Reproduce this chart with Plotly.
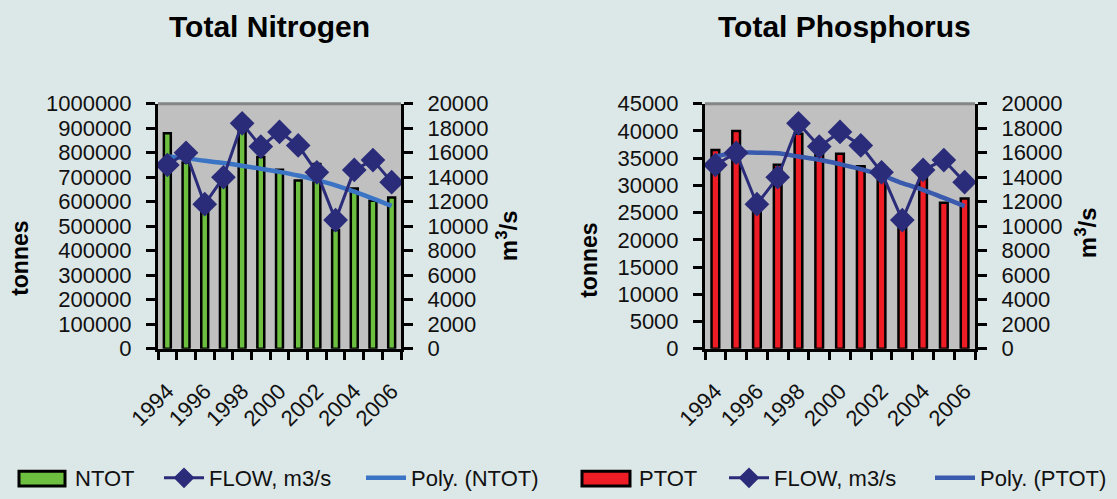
import plotly.graph_objects as go

# ---------------- data ----------------
years = [1994, 1995, 1996, 1997, 1998, 1999, 2000, 2001, 2002, 2003, 2004, 2005, 2006]
year_labels = [1994, 1996, 1998, 2000, 2002, 2004, 2006]

ntot = [880000, 760000, 590000, 670000, 895000, 783000, 731000, 687000, 754000, 485000, 654000, 604000, 617000]
ntot_poly = [785000, 778000, 767000, 758000, 747000, 735000, 722000, 707000, 688000, 667000, 641000, 613000, 583000]

ptot = [36500, 40000, 26500, 33800, 39500, 36000, 35800, 33500, 32200, 23000, 31400, 26800, 27600]
ptot_poly = [35300, 36000, 36000, 35900, 35300, 34700, 33900, 33000, 31900, 30400, 29200, 27700, 26200]

flow = [15000, 16000, 11800, 14000, 18400, 16500, 17700, 16600, 14400, 10500, 14600, 15400, 13600]

# ---------------- styles ----------------
FONT = "Arial, 'Liberation Sans', sans-serif"
BG = "#DCE7E7"
PLOT_BG = "#C0C0C0"
GREEN = "#6DC03F"
RED = "#EE1C24"
NAVY = "#2A2C7A"
TREND_N = "#3B74C4"
TREND_P = "#3A5AAE"

W, H = 1117, 499

def px_x(p):
    return p / W

def px_y(p):
    return 1 - p / H

fig = go.Figure()

# ---- Nitrogen ----
fig.add_trace(go.Bar(x=years, y=ntot, name="NTOT", xaxis="x", yaxis="y",
                     width=0.37, marker=dict(color=GREEN, line=dict(color="black", width=2.5)),
                     showlegend=False))
fig.add_trace(go.Scatter(x=years, y=ntot_poly, name="Poly. (NTOT)", mode="lines", xaxis="x", yaxis="y",
                         line=dict(color=TREND_N, width=4.5, shape="spline"), legend="legend2"))
fig.add_trace(go.Scatter(x=years, y=flow, name="FLOW, m3/s", mode="lines+markers", xaxis="x", yaxis="y2",
                         line=dict(color=NAVY, width=3),
                         marker=dict(symbol="diamond", size=19, color=NAVY),
                         legend="legend"))

# ---- Phosphorus ----
fig.add_trace(go.Bar(x=years, y=ptot, name="PTOT", xaxis="x2", yaxis="y3",
                     width=0.37, marker=dict(color=RED, line=dict(color="black", width=2.5)),
                     showlegend=False))
fig.add_trace(go.Scatter(x=years, y=ptot_poly, name="Poly. (PTOT)", mode="lines", xaxis="x2", yaxis="y3",
                         line=dict(color=TREND_P, width=4.5, shape="spline"), legend="legend4"))
fig.add_trace(go.Scatter(x=years, y=flow, name="FLOW, m3/s", mode="lines+markers", xaxis="x2", yaxis="y4",
                         line=dict(color=NAVY, width=3),
                         marker=dict(symbol="diamond", size=19, color=NAVY),
                         legend="legend3"))

tickfont = dict(family=FONT, size=22, color="#111111")

def xaxis(domain, anchor):
    return dict(domain=domain, anchor=anchor, range=[1993.5, 2006.5],
                tickmode="array", tickvals=year_labels, ticktext=[str(v) for v in year_labels],
                tickangle=-45, ticks="", ticklabelstandoff=18,
                minor=dict(tickmode="linear", tick0=1993.5, dtick=1, ticks="outside",
                           ticklen=8, tickwidth=3, tickcolor="black", showgrid=False),
                showline=True, linecolor="black", linewidth=3, showgrid=False, zeroline=False,
                tickfont=tickfont, automargin=False, fixedrange=True)

def yaxis(domain, anchor, rng, dtick, side="left", overlaying=None):
    d = dict(domain=domain, anchor=anchor, range=rng, dtick=dtick, tick0=0, side=side,
             ticks="outside", ticklen=9, tickwidth=3, tickcolor="black",
             ticklabelstandoff=10, tickformat="d",
             showline=True, linecolor="black", linewidth=3, showgrid=False, zeroline=False,
             tickfont=tickfont, automargin=False, fixedrange=True)
    if overlaying:
        d["overlaying"] = overlaying
    return d

ydom = [px_y(353), px_y(105)]
xdom1 = [px_x(158), px_x(401)]
xdom2 = [px_x(705), px_x(975)]

legend_font = dict(family=FONT, size=22, color="#111111")

def legend_at(xpx):
    return dict(orientation="h", x=px_x(xpx), y=px_y(484), xanchor="left", yanchor="middle",
                bgcolor="rgba(0,0,0,0)", font=legend_font, itemwidth=40)

fig.update_layout(
    width=W, height=H,
    margin=dict(l=0, r=0, t=0, b=0),
    paper_bgcolor=BG, plot_bgcolor=PLOT_BG,
    font=dict(family=FONT, color="black"),
    barmode="group",
    xaxis=xaxis(xdom1, "y"),
    yaxis=yaxis(ydom, "x", [0, 1000000], 100000),
    yaxis2=yaxis(ydom, "x", [0, 20000], 2000, side="right", overlaying="y"),
    xaxis2=xaxis(xdom2, "y3"),
    yaxis3=yaxis(ydom, "x2", [0, 45000], 5000),
    yaxis4=yaxis(ydom, "x2", [0, 20000], 2000, side="right", overlaying="y3"),
    legend=legend_at(159),
    legend2=legend_at(361),
    legend3=legend_at(724),
    legend4=legend_at(930),
    showlegend=True,
)

# top border of plot areas
for xr, yr in (("x domain", "y domain"), ("x2 domain", "y3 domain")):
    fig.add_shape(type="line", xref=xr, yref=yr, x0=0, x1=1, y0=1, y1=1,
                  line=dict(color="#858585", width=3), layer="below")

# bar legend swatches (wide boxes as in the original)
for x0, x1, col in ((19, 65, GREEN), (582, 630, RED)):
    fig.add_shape(type="rect", xref="paper", yref="paper",
                  x0=px_x(x0), x1=px_x(x1), y0=px_y(492), y1=px_y(477),
                  fillcolor=col, line=dict(color="black", width=3))

title_font = dict(family=FONT, size=30, color="black")
axis_title_font = dict(family=FONT, size=23, color="black")
unit_title_font = dict(family=FONT, size=24, color="black")

annotations = [
    dict(text="<b>Total Nitrogen</b>", x=px_x(269), y=px_y(27), font=title_font),
    dict(text="<b>Total Phosphorus</b>", x=px_x(844), y=px_y(27), font=title_font),
    dict(text="<b>tonnes</b>", x=px_x(20), y=px_y(262), textangle=-90, font=axis_title_font),
    dict(text="<b>tonnes</b>", x=px_x(589), y=px_y(264), textangle=-90, font=axis_title_font),
    dict(text="<b>m<sup>3</sup>/s</b>", x=px_x(507), y=px_y(239), textangle=-90, font=unit_title_font),
    dict(text="<b>m<sup>3</sup>/s</b>", x=px_x(1086), y=px_y(236), textangle=-90, font=unit_title_font),
]
for a in annotations:
    fig.add_annotation(xref="paper", yref="paper", showarrow=False,
                       xanchor="center", yanchor="middle", **a)

# bar legend labels
for txt, xpx in (("NTOT", 73), ("PTOT", 637)):
    fig.add_annotation(xref="paper", yref="paper", showarrow=False, text=txt,
                       x=px_x(xpx), y=px_y(484), xanchor="left", yanchor="middle", font=legend_font)

post = (
    "var d=document.documentElement,b=document.body;"
    "[d,b].forEach(function(e){e.style.margin='0';e.style.padding='0';e.style.overflow='hidden';});"
)
fig.write_html("out.html", config={"displayModeBar": False}, post_script=post)
